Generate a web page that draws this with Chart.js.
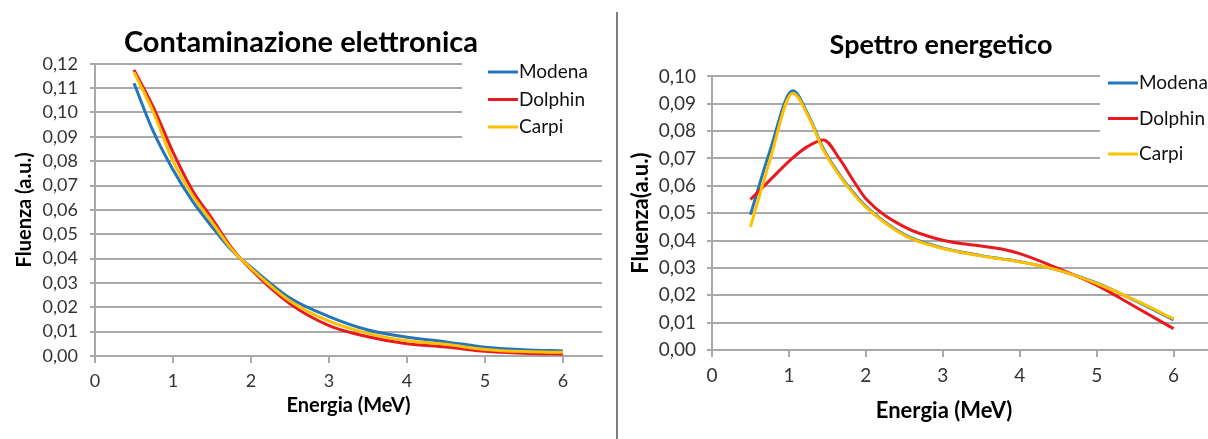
<!DOCTYPE html>
<html>
<head>
<meta charset="utf-8">
<script src="https://cdn.jsdelivr.net/npm/chart.js@4.4.1/dist/chart.umd.min.js"></script>
<style>
  html, body { margin: 0; padding: 0; background: #fff; overflow: hidden; }
  body { width: 1208px; height: 439px; position: relative; }
  #left { position: absolute; left: 0; top: 0; width: 615px; height: 439px; }
  #right { position: absolute; left: 619px; top: 0; width: 644px; height: 439px; }
  #divider { position: absolute; left: 616px; top: 12px; width: 2px; height: 427px; background: #7f7f7f; }
</style>
</head>
<body>
<div id="left"><canvas id="contam"></canvas></div>
<div id="divider"></div>
<div id="right"><canvas id="spettro"></canvas></div>
<script>
// Contaminazione elettronica
const contamEnergy  = [0.5, 0.75, 1, 1.25, 1.5, 1.75, 2, 2.5, 3, 3.5, 4, 4.5, 5, 5.5, 6];
const contamModena  = [0.112, 0.092, 0.0765, 0.0636, 0.0531, 0.0435, 0.0365, 0.0238, 0.0162, 0.0107, 0.0077, 0.0058, 0.0036, 0.0026, 0.0021];
const contamDolphin = [0.1175, 0.102, 0.0837, 0.068, 0.0564, 0.0445, 0.0355, 0.0214, 0.0125, 0.0079, 0.0050, 0.0037, 0.0019, 0.0011, 0.0008];
const contamCarpi   = [0.1166, 0.100, 0.0800, 0.0660, 0.0550, 0.0440, 0.0360, 0.0226, 0.0143, 0.0093, 0.0063, 0.0048, 0.0027, 0.0018, 0.0015];

// Spettro energetico
const spettroEnergy  = [0.5, 0.75, 1.05, 1.25, 1.45, 1.65, 1.85, 2, 2.5, 3, 3.5, 3.75, 4, 4.5, 5, 5.5, 6];
const spettroModena  = [0.0495, 0.0725, 0.0948, 0.0860, 0.0735, 0.0644, 0.0571, 0.0525, 0.0422, 0.0373, 0.0345, 0.0334, 0.0323, 0.0292, 0.0245, 0.0180, 0.0110];
const spettroDolphin = [0.0550, 0.0620, 0.0702, 0.0745, 0.0768, 0.0702, 0.0614, 0.0553, 0.0450, 0.0401, 0.0380, 0.0370, 0.0352, 0.0298, 0.0237, 0.0158, 0.0078];
const spettroCarpi   = [0.0450, 0.0690, 0.0938, 0.0855, 0.0730, 0.0640, 0.0567, 0.0522, 0.0419, 0.0371, 0.0344, 0.0333, 0.0322, 0.0292, 0.0243, 0.0182, 0.0114];

const seriesNames = ['Modena', 'Dolphin', 'Carpi'];
const seriesColors = ['#2276b9', '#e8191f', '#ffc000'];

const FONT = 'Lato';
const GRID = '#a9a9a9';

function points(xs, ys){
  return xs.map((x, i) => ({x: x, y: ys[i]}));
}

function datasets(xs, list){
  // first one at the bottom, Carpi drawn last (on top)
  return list.map((ys, i) => ({
    label: seriesNames[i],
    data: points(xs, ys),
    borderColor: seriesColors[i],
    backgroundColor: seriesColors[i],
    borderWidth: 3,
    pointRadius: 0,
    fill: false,
    cubicInterpolationMode: 'monotone',
    order: list.length - i
  }));
}

// excel-like legend: white box sitting over the top gridlines
const boxLegend = {
  id: 'boxLegend',
  beforeDatasetsDraw(chart, args, opts){
    const ctx = chart.ctx;
    ctx.save();
    ctx.fillStyle = '#fff';
    ctx.fillRect(opts.left, opts.top, chart.width - opts.left, opts.height);
    ctx.font = opts.font;
    ctx.textBaseline = 'middle';
    ctx.textAlign = 'left';
    chart.data.datasets.forEach(function(ds, i){
      const y = opts.firstRow + i * opts.rowGap;
      ctx.strokeStyle = ds.borderColor;
      ctx.lineWidth = 3;
      ctx.beginPath();
      ctx.moveTo(opts.lineX, y);
      ctx.lineTo(opts.lineX + 30, y);
      ctx.stroke();
      ctx.fillStyle = '#111';
      ctx.fillText(ds.label, opts.lineX + 31, y);
    });
    ctx.restore();
  }
};

// axis caption that is not centred on the plot area
const axisCaption = {
  id: 'axisCaption',
  afterDraw(chart, args, opts){
    if(!opts.text) return;
    const ctx = chart.ctx;
    ctx.save();
    ctx.font = opts.font;
    ctx.fillStyle = '#000';
    ctx.textAlign = 'center';
    ctx.textBaseline = 'middle';
    ctx.fillText(opts.text, opts.x, opts.y);
    ctx.restore();
  }
};

function comma(v){
  return v.toFixed(2).replace('.', ',');
}

function make_chart(id, cfg){
  return new Chart(document.getElementById(id), {
    type: 'line',
    data: { datasets: datasets(cfg.energy, cfg.series) },
    plugins: [boxLegend, axisCaption],
    options: {
      responsive: true,
      maintainAspectRatio: false,
      animation: false,
      layout: { padding: { left: 0, right: cfg.padRight, top: 0, bottom: 0 } },
      scales: {
        x: {
          type: 'linear',
          min: 0,
          max: cfg.xMax,
          afterFit: s => { s.height = cfg.xHeight; },
          ticks: {
            stepSize: 1,
            includeBounds: false,
            autoSkip: false,
            maxRotation: 0,
            padding: cfg.xTickPad,
            color: '#333',
            font: { family: FONT, size: cfg.tickSize }
          },
          grid: { drawOnChartArea: false, drawTicks: true, tickLength: 7, color: GRID, lineWidth: 2 },
          border: { display: true, color: GRID, width: 2 },
          title: {
            display: cfg.xTitle !== null,
            text: cfg.xTitle || '',
            color: '#000',
            font: { family: FONT, size: cfg.axisTitleSize, weight: 'bold' },
            padding: { top: 0, bottom: cfg.xTitlePad }
          }
        },
        y: {
          min: 0,
          max: cfg.yMax,
          afterFit: s => { s.width = cfg.yWidth; },
          ticks: {
            stepSize: 0.01,
            maxTicksLimit: 20,
            autoSkip: false,
            padding: cfg.yTickPad,
            color: '#333',
            font: { family: FONT, size: cfg.tickSize },
            callback: comma
          },
          grid: { color: GRID, lineWidth: 2, tickLength: 5 },
          border: { display: true, color: GRID, width: 2 },
          title: {
            display: true,
            text: cfg.yTitle,
            color: '#000',
            font: { family: FONT, size: cfg.axisTitleSize, weight: 'bold' },
            padding: { top: cfg.yTitlePad, bottom: 0 }
          }
        }
      },
      plugins: {
        legend: { display: false },
        tooltip: { enabled: false },
        title: {
          display: true,
          text: cfg.title,
          color: '#000',
          font: { family: FONT, size: cfg.titleSize, weight: 'bold', lineHeight: 1.2 },
          padding: cfg.titlePad
        },
        boxLegend: cfg.legend,
        axisCaption: cfg.caption || {}
      }
    }
  });
}

make_chart('contam', {
  energy: contamEnergy,
  series: [contamModena, contamDolphin, contamCarpi],
  title: 'Contaminazione elettronica',
  titleSize: 29,
  titlePad: { top: 25, bottom: 4 },
  xTitle: 'Energia (MeV)',
  yTitle: 'Fluenza (a.u.)',
  xMax: 6.5,
  yMax: 0.12,
  padRight: 13,
  yWidth: 95,
  xHeight: 83,
  tickSize: 18,
  axisTitleSize: 20,
  xTickPad: 7,
  yTickPad: 12,
  xTitlePad: 21,
  yTitlePad: 13,
  legend: { left: 462, top: 52, height: 98, lineX: 488, firstRow: 72, rowGap: 27.5, font: '19px Lato' }
});

make_chart('spettro', {
  energy: spettroEnergy,
  series: [spettroModena, spettroDolphin, spettroCarpi],
  title: 'Spettro energetico',
  titleSize: 27,
  titlePad: { top: 29, bottom: 15 },
  xTitle: null,
  yTitle: 'Fluenza(a.u.)',
  xMax: 7.1,
  yMax: 0.10,
  padRight: 0,
  yWidth: 93,
  xHeight: 89,
  tickSize: 19,
  axisTitleSize: 22,
  xTickPad: 7,
  yTickPad: 11,
  xTitlePad: 18,
  yTitlePad: 9,
  legend: { left: 481, top: 62, height: 110, lineX: 489, firstRow: 83, rowGap: 35.5, font: '19px Lato' },
  caption: { text: 'Energia (MeV)', x: 325, y: 411, font: 'bold 22px Lato' }
});
</script>
</body>
</html>
